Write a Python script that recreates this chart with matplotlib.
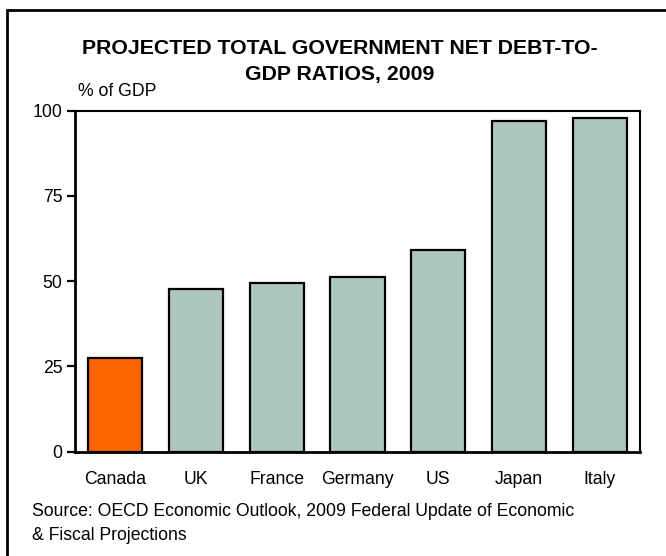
import matplotlib.pyplot as plt
from matplotlib.patches import Rectangle

plt.rcParams['font.family'] = ['Liberation Sans', 'DejaVu Sans']

# Data (% of GDP)
countries = ['Canada', 'UK', 'France', 'Germany', 'US', 'Japan', 'Italy']
net_debt = [27.4, 47.6, 49.6, 51.2, 59.1, 97.1, 97.8]
yticks = [0, 25, 50, 75, 100]

orange = '#FF6600'
sage = '#AEC7BD'
colors = [orange] + [sage] * (len(countries) - 1)

fig = plt.figure(figsize=(6.66, 5.56), dpi=100)
W, H = 666, 556
ax = fig.add_axes([75 / W, 1 - 451.7 / H, (640 - 75) / W, (451.7 - 110.7) / H])

x = range(len(countries))
ax.bar(x, net_debt, width=0.67, color=colors, edgecolor='black', linewidth=1.6)

ax.set_xlim(-0.5, len(countries) - 0.5)
ax.set_ylim(0, 100)
ax.set_yticks(yticks)
ax.set_xticks(list(x))
ax.set_xticklabels(countries, fontsize=12.7)
ax.tick_params(axis='y', direction='out', length=6, width=1.6, labelsize=12.7, pad=3)
ax.tick_params(axis='x', length=0, pad=14)
for side in ['left', 'bottom']:
    ax.spines[side].set_linewidth(2.0)
for side in ['top', 'right']:
    ax.spines[side].set_linewidth(1.5)

# titles and notes
fig.text(340 / W, 1 - 48 / H, 'PROJECTED TOTAL GOVERNMENT NET DEBT-TO-',
         ha='center', va='center', fontsize=15.3, fontweight='bold')
fig.text(340 / W, 1 - 74 / H, 'GDP RATIOS, 2009',
         ha='center', va='center', fontsize=15.3, fontweight='bold')
fig.text(78 / W, 1 - 91 / H, '% of GDP', ha='left', va='center', fontsize=12.7)
fig.text(32 / W, 1 - 511 / H, 'Source: OECD Economic Outlook, 2009 Federal Update of Economic',
         ha='left', va='center', fontsize=12.7)
fig.text(32 / W, 1 - 535 / H, '& Fiscal Projections', ha='left', va='center', fontsize=12.7)

# outer frame, cropped at right and bottom like the source image
fig.patches.append(Rectangle((7 / W, -0.05), 1.1, 1 - 10 / H + 0.05, transform=fig.transFigure,
                             fill=False, edgecolor='black', linewidth=2.0))

fig.savefig('out.png', dpi=100)
